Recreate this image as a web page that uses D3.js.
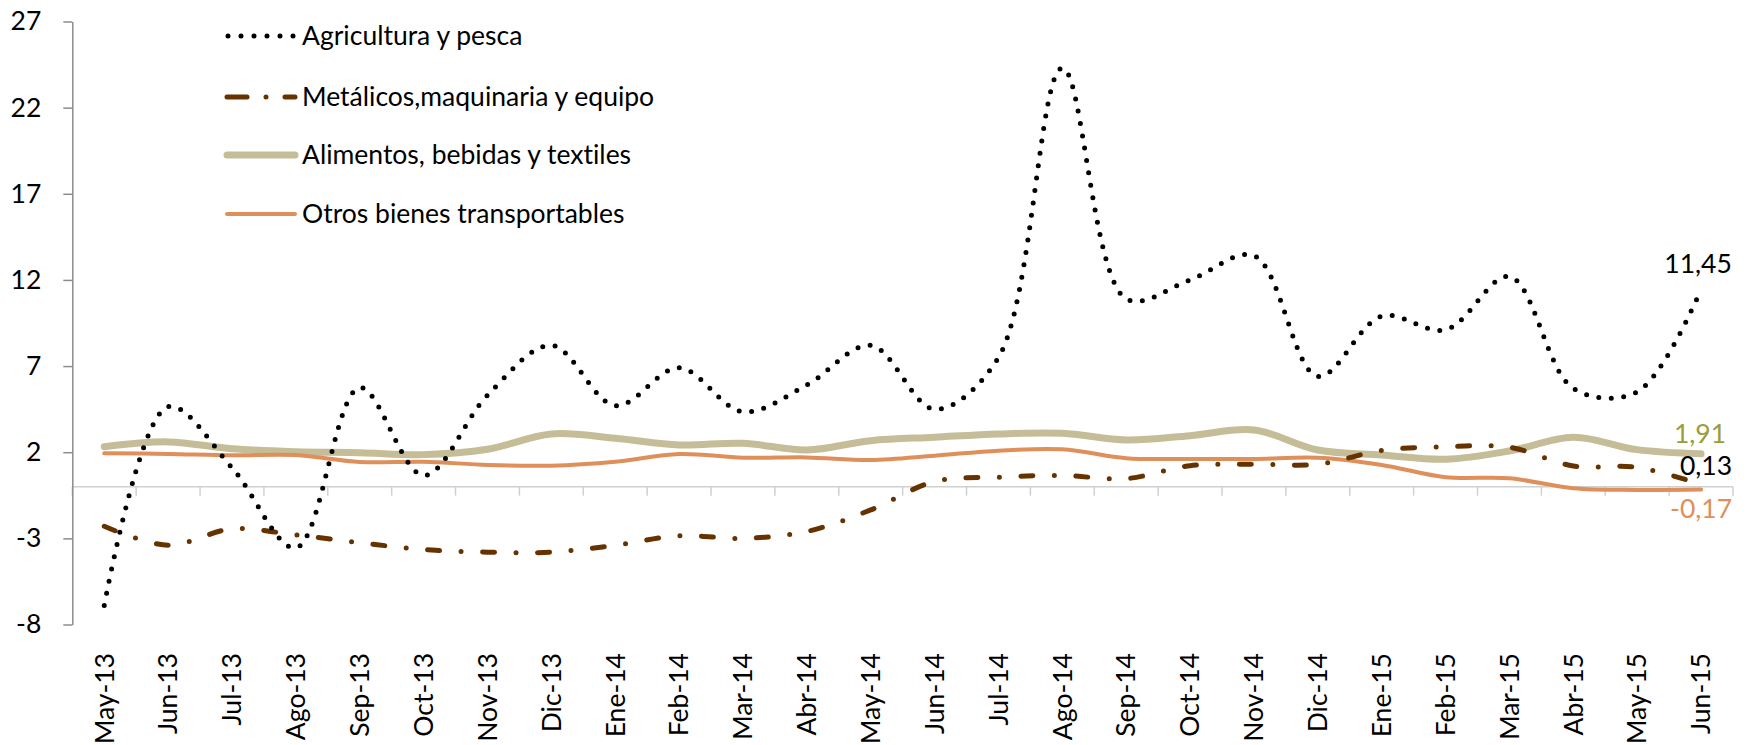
<!DOCTYPE html>
<html>
<head>
<meta charset="utf-8">
<script src="https://cdn.jsdelivr.net/npm/d3@7"></script>
<style>
  body { margin: 0; background: #fff; }
  text { font-family: Lato, "Open Sans", sans-serif; font-variant-ligatures: none; }
</style>
</head>
<body>
<div class="chart"></div>
<script>
// months on the x axis
const months = ["May-13","Jun-13","Jul-13","Ago-13","Sep-13","Oct-13","Nov-13","Dic-13",
  "Ene-14","Feb-14","Mar-14","Abr-14","May-14","Jun-14","Jul-14","Ago-14","Sep-14","Oct-14","Nov-14","Dic-14",
  "Ene-15","Feb-15","Mar-15","Abr-15","May-15","Jun-15"];

const agricultura = [-6.9, 4.65, 1.1, -3.55, 5.75, 0.65, 5.3, 8.2, 4.7, 6.9, 4.35, 5.9, 8.2, 4.5, 7.5, 24.3,
  10.9, 12.0, 13.4, 6.4, 9.9, 9.1, 12.2, 5.7, 5.5, 11.45];
const metalicos = [-2.3, -3.4, -2.45, -2.8, -3.25, -3.65, -3.8, -3.8, -3.4, -2.85, -3.0, -2.6, -1.35, 0.3, 0.55, 0.65,
  0.47, 1.22, 1.3, 1.3, 2.1, 2.32, 2.29, 1.2, 1.12, 0.13];
const alimentos = [2.32, 2.6, 2.2, 2.03, 1.97, 1.86, 2.17, 3.06, 2.81, 2.42, 2.52, 2.13, 2.67, 2.87, 3.06, 3.1,
  2.71, 2.96, 3.29, 2.13, 1.84, 1.59, 2.07, 2.87, 2.15, 1.91];
const otros = [1.94, 1.9, 1.82, 1.84, 1.43, 1.45, 1.26, 1.22, 1.45, 1.9, 1.68, 1.7, 1.55, 1.8, 2.09, 2.17,
  1.65, 1.61, 1.61, 1.68, 1.26, 0.55, 0.49, -0.09, -0.19, -0.17];

const yTicks = [-8, -3, 2, 7, 12, 17, 22, 27];
const endLabels = ["11,45", "0,13", "1,91", "-0,17"];

const width = 1754, height = 745;
const plotLeft = 72.3, plotRight = 1733, plotTop = 21.5, plotBottom = 624.5;
const fs = 26.5;

const svg = d3.select(".chart").append("svg")
  .attr("width", width)
  .attr("height", height);

const x = d3.scaleBand().domain(months).range([plotLeft, plotRight]);
const y = d3.scaleLinear().domain([-8, 27]).range([plotBottom, plotTop]);
const cx = m => x(m) + x.bandwidth() / 2;

// x axis line at zero, with ticks between categories
svg.append("line")
  .attr("x1", plotLeft).attr("x2", plotRight)
  .attr("y1", y(0)).attr("y2", y(0))
  .attr("stroke", "#d0d0d0").attr("stroke-width", 1.5);

svg.selectAll(".xtick")
  .data(months.concat(["end"]))
  .join("line")
  .attr("class", "xtick")
  .attr("x1", (d, i) => plotLeft + i * x.bandwidth())
  .attr("x2", (d, i) => plotLeft + i * x.bandwidth())
  .attr("y1", y(0)).attr("y2", y(0) + 9)
  .attr("stroke", "#d0d0d0").attr("stroke-width", 1.5);

svg.selectAll(".xlabel")
  .data(months)
  .join("text")
  .attr("class", "xlabel")
  .attr("transform", d => "translate(" + cx(d) + ",653) rotate(-90)")
  .attr("text-anchor", "end")
  .attr("dy", "0.35em")
  .attr("font-size", fs)
  .attr("fill", "#000")
  .text(d => d);

// y axis
const yAxis = svg.append("g")
  .attr("transform", "translate(" + plotLeft + ",0)")
  .call(d3.axisLeft(y).tickValues(yTicks).tickFormat(d => String(d))
    .tickSize(9).tickSizeOuter(0).tickPadding(22));
yAxis.select(".domain").attr("stroke", "#8c8c8c").attr("stroke-width", 1.5);
yAxis.selectAll(".tick line").attr("stroke", "#8c8c8c").attr("stroke-width", 1.5);
yAxis.selectAll(".tick text")
  .attr("font-size", fs)
  .attr("font-family", "Lato, 'Open Sans', sans-serif")
  .attr("fill", "#000");

// series
const curve = d3.curveCatmullRom.alpha(0.5);
const line = d3.line()
  .x((d, i) => cx(months[i]))
  .y(d => y(d))
  .curve(curve);

const series = [
  { name: "Alimentos, bebidas y textiles", values: alimentos, color: "#c4bd97", w: 7, dash: null, cap: "round" },
  { name: "Otros bienes transportables", values: otros, color: "#df8f5a", w: 4, dash: null, cap: "round" },
  { name: "Metálicos,maquinaria y equipo", values: metalicos, color: "#663300", w: 5, dash: "12 21.5 0 21.5", cap: "round" },
  { name: "Agricultura y pesca", values: agricultura, color: "#000000", w: 5, dash: "0 12.5", cap: "round" }
];

svg.selectAll(".series")
  .data(series)
  .join("path")
  .attr("class", "series")
  .attr("d", d => line(d.values))
  .attr("fill", "none")
  .attr("stroke", d => d.color)
  .attr("stroke-width", d => d.w)
  .attr("stroke-linecap", d => d.cap)
  .attr("stroke-dasharray", d => d.dash);

// end labels
const last = months[months.length - 1];
const lx = cx(last);
const labels = [
  { text: endLabels[0], v: agricultura[25], dy: -16, dx: -3, color: "#000" },
  { text: endLabels[1], v: metalicos[25], dy: -9, dx: 5, color: "#000" },
  { text: endLabels[2], v: alimentos[25], dy: -11, dx: -1, color: "#9c9c3a" },
  { text: endLabels[3], v: otros[25], dy: 28, dx: 0, color: "#df8f5a" }
];
svg.selectAll(".endlabel")
  .data(labels)
  .join("text")
  .attr("class", "endlabel")
  .attr("x", d => lx + d.dx)
  .attr("y", d => y(d.v) + d.dy)
  .attr("text-anchor", "middle")
  .attr("font-size", fs)
  .attr("fill", d => d.color)
  .text(d => d.text);

// legend
const legendOrder = [series[3], series[2], series[0], series[1]];
const legendY = [36, 97, 155, 214];
const legend = svg.selectAll(".legend")
  .data(legendOrder)
  .join("g")
  .attr("class", "legend")
  .attr("transform", (d, i) => "translate(225," + legendY[i] + ")");

legend.append("line")
  .attr("x1", d => d.dash === "0 12.5" ? 3 : 2)
  .attr("x2", 70)
  .attr("stroke", d => d.color)
  .attr("stroke-width", d => d.w)
  .attr("stroke-linecap", d => d.cap)
  .attr("stroke-dasharray", d => d.dash === "0 12.5" ? "0 13" : (d.dash ? "20 19 0 19" : null));

legend.append("text")
  .attr("x", 77)
  .attr("dy", "0.35em")
  .attr("font-size", fs)
  .attr("fill", "#000")
  .text(d => d.name);
</script>
</body>
</html>
